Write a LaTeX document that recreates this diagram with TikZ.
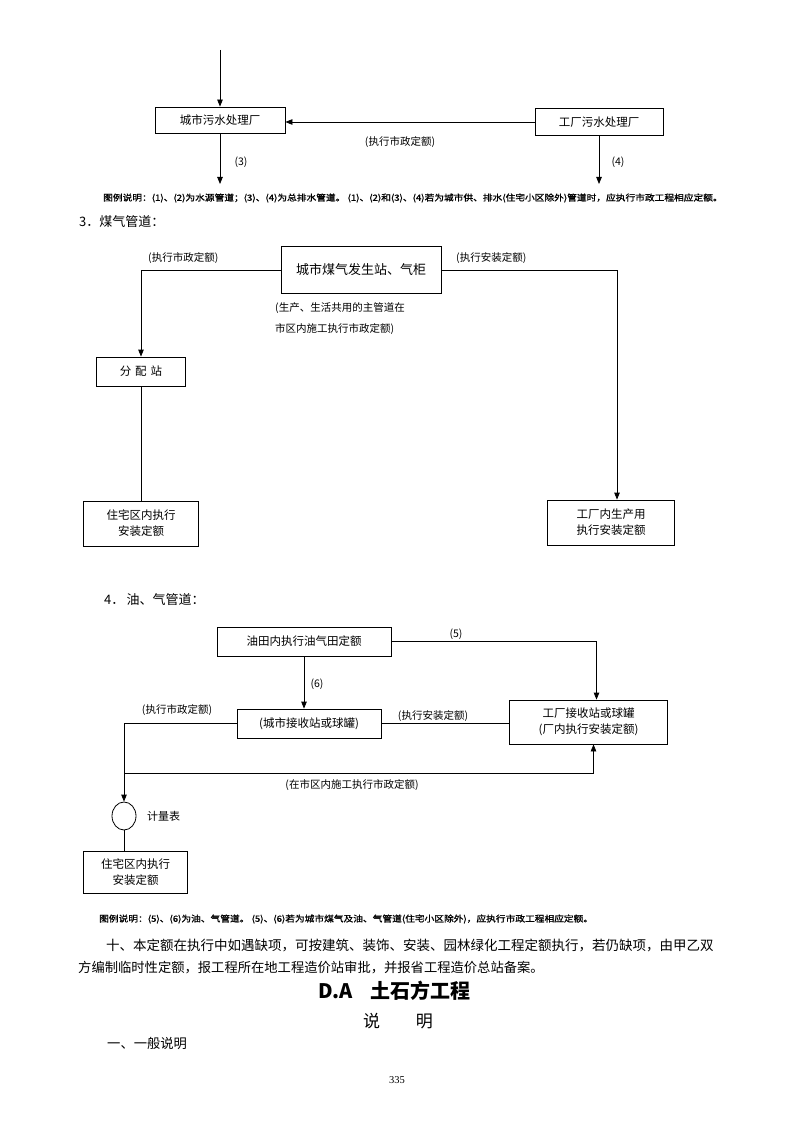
\documentclass[tikz,border=0pt]{standalone}
\usepackage{fontspec}
\setmainfont{Noto Sans CJK SC}
\newfontfamily\serif{Liberation Serif}
\newfontfamily\legendfont[FakeBold=1.2,FakeStretch=1.13]{Noto Sans CJK SC}
\usetikzlibrary{arrows.meta,shapes.geometric}
\begin{document}
\begin{tikzpicture}[x=1pt,y=-1pt,
  box/.style={draw,line width=0.8pt,inner sep=0pt,align=center,font=\fontsize{11.5}{16}\selectfont},
  lbl/.style={inner sep=0pt,font=\fontsize{10.5}{13}\selectfont},
  lnk/.style={line width=0.8pt},
  arr/.style={line width=0.8pt,-{Triangle[length=7pt,width=5.5pt]}},
  legend/.style={inner sep=0pt,anchor=west,font=\legendfont\fontsize{8.6}{10}\selectfont},
  body/.style={inner sep=0pt,anchor=west,font=\fontsize{13.3}{16}\selectfont}]
\useasboundingbox[fill=white] (0,0) rectangle (794,1123);

% ---------- section: sewage ----------
\node[box,minimum width=130,minimum height=26] (A) at (220,120) {城市污水处理厂};
\node[box,minimum width=128,minimum height=27] (B) at (599,122) {工厂污水处理厂};
\coordinate (a0) at (220,50);
\coordinate (a3) at (220,184);
\coordinate (b4) at (599,184);
\draw[arr] (a0) -- (A.north);
\draw[arr] (B.west) -- (B.west -| A.east);
\node[lbl] (l1) at (400,142) {(执行市政定额)};
\draw[arr] (A.south) -- (a3);
\draw[arr] (B.south) -- (b4);
\node[lbl] (l3) at (241,162) {(3)};
\node[lbl] (l4) at (618,162) {(4)};
\node[legend] (lg1) at (103,198) {图例说明：(1)、(2)为水源管道；(3)、(4)为总排水管道。 (1)、(2)和(3)、(4)若为城市供、排水(住宅小区除外)管道时，应执行市政工程相应定额。};

% ---------- section 3: gas ----------
\node[inner sep=0pt,anchor=west,font=\fontsize{13}{15}\selectfont] (h3) at (79,222) {3．煤气管道：};
\node[box,minimum width=160,minimum height=47,font=\fontsize{13}{15}\selectfont] (C) at (361,270) {城市煤气发生站、气柜};
\node[box,minimum width=89,minimum height=29] (P) at (141,371.5) {分\,\,配\,\,站};
\node[box,minimum width=115,minimum height=45] (R) at (141,523.5) {住宅区内执行\\安装定额};
\node[box,minimum width=127,minimum height=45] (H) at (611,522.5) {工厂内生产用\\执行安装定额};
\draw[arr] (C.west) -| (P.north);
\draw[arr] (C.east) -| ([xshift=6pt]H.north);
\draw[lnk] (P.south) -- (P.south |- R.north);
\node[lbl,anchor=west] (l5) at (148,258) {(执行市政定额)};
\node[lbl,anchor=west] (l6) at (456,258) {(执行安装定额)};
\node[lbl,anchor=west] (l7) at (275,308) {(生产、生活共用的主管道在};
\node[lbl,anchor=west] (l8) at (275,329) {市区内施工执行市政定额)};

% ---------- section 4: oil & gas ----------
\node[inner sep=0pt,anchor=west,font=\fontsize{13}{15}\selectfont] (h4) at (104,600) {4．\,油、气管道：};
\node[box,minimum width=174,minimum height=29] (D) at (304,641.5) {油田内执行油气田定额};
\node[box,minimum width=144,minimum height=29] (E) at (309,723.5) {(城市接收站或球罐)};
\node[box,minimum width=158,minimum height=44] (F) at (588.5,722) {工厂接收站或球罐\\(厂内执行安装定额)};
\node[draw,line width=0.8pt,ellipse,minimum width=24,minimum height=28,inner sep=0pt] (M) at (124,816) {};
\node[box,minimum width=104,minimum height=42] (G) at (135.5,872) {住宅区内执行\\安装定额};
\draw[arr] (D.east) -| ([xshift=8pt]F.north);
\draw[arr] (D.south) -- (D.south |- E.north);
\draw[lnk] (E.east) -- (E.east -| F.west);
\draw[arr] (E.west) -| (M.north);
\coordinate (j) at (124,773);
\draw[arr] (j) -| ([xshift=5pt]F.south);
\draw[lnk] (M.south) -- (M.south |- G.north);
\node[lbl] (l9) at (456,634) {(5)};
\node[lbl] (l10) at (317,684) {(6)};
\node[lbl] (l11) at (177,710) {(执行市政定额)};
\node[lbl] (l12) at (433,716) {(执行安装定额)};
\node[lbl] (l13) at (352,785) {(在市区内施工执行市政定额)};
\node[lbl,anchor=west,font=\fontsize{11}{13}\selectfont] (l14) at (147,816) {计量表};
\node[legend] (lg2) at (99,919) {图例说明：(5)、(6)为油、气管道。 (5)、(6)若为城市煤气及油、气管道(住宅小区除外)，应执行市政工程相应定额。};

% ---------- text ----------
\node[body,font=\fontsize{13.5}{16}\selectfont] (p1) at (106,945) {十、本定额在执行中如遇缺项，可按建筑、装饰、安装、园林绿化工程定额执行，若仍缺项，由甲乙双};
\node[body] (p2) at (78,968) {方编制临时性定额，报工程所在地工程造价站审批，并报省工程造价总站备案。};
\node[inner sep=0pt,anchor=west,font=\fontsize{20}{22}\selectfont\bfseries] (t1) at (318,991) {D.A\hspace{17pt}土石方工程};
\node[inner sep=0pt,font=\fontsize{17}{20}\selectfont] (t2) at (398,1021) {说\hspace{36pt}明};
\node[body] (p3) at (107,1043) {一、一般说明};
\node[inner sep=0pt,font=\serif\fontsize{10.5}{12}\selectfont] (pg) at (397,1080) {335};
\end{tikzpicture}
\end{document}
